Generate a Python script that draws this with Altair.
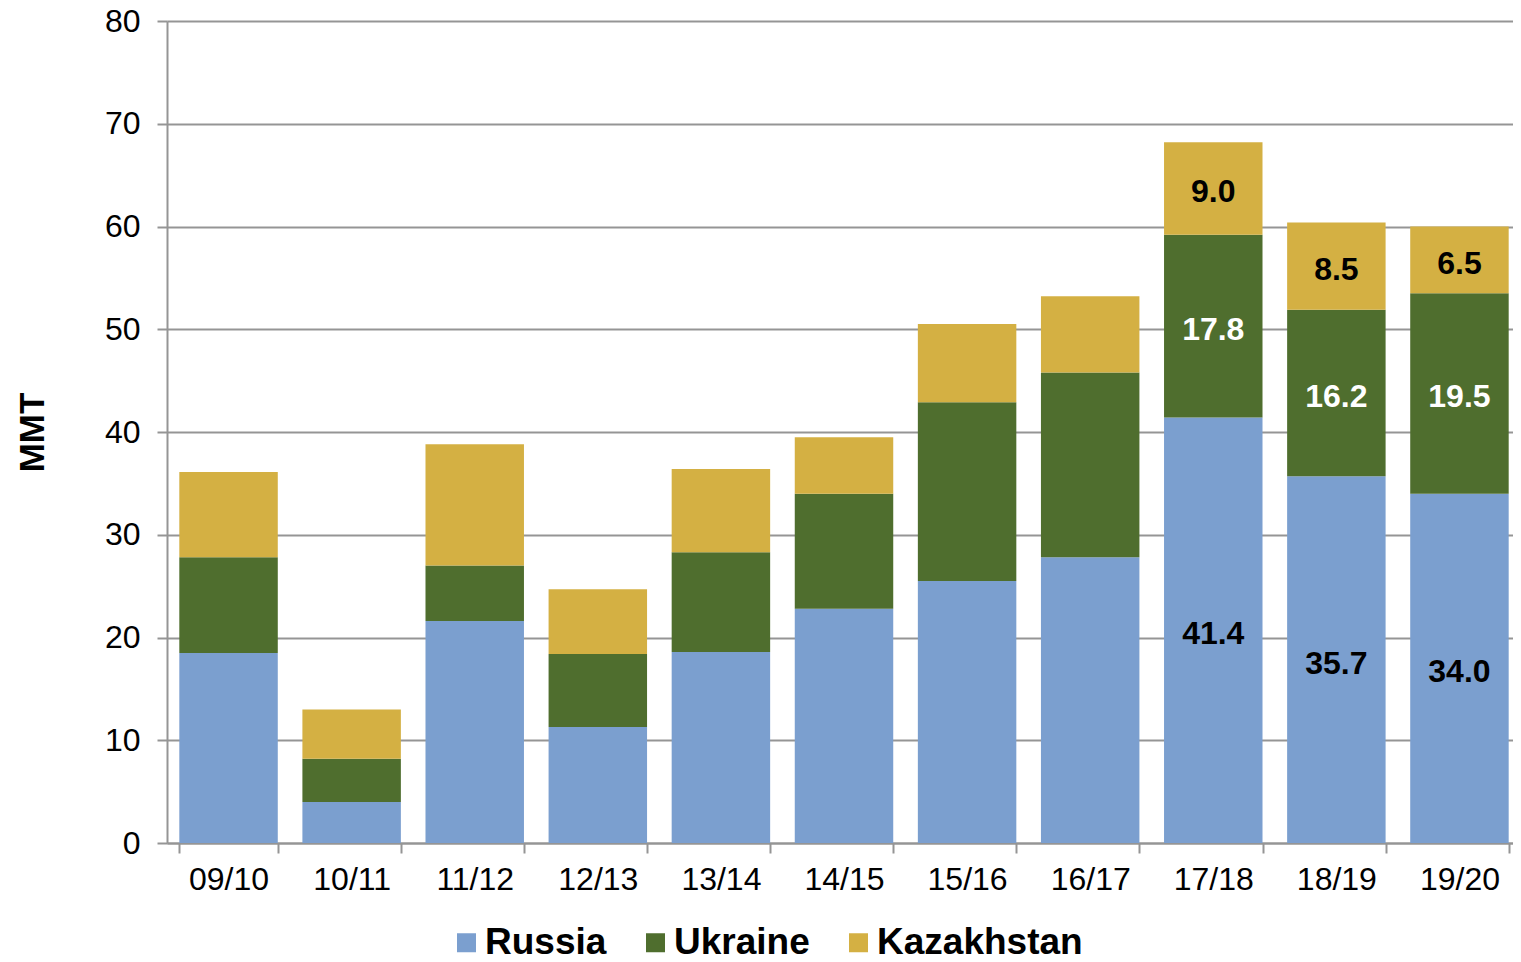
import altair as alt
import pandas as pd

seasons = ["09/10", "10/11", "11/12", "12/13", "13/14", "14/15", "15/16", "16/17", "17/18", "18/19", "19/20"]
russia = [18.5, 4.0, 21.6, 11.3, 18.6, 22.8, 25.5, 27.8, 41.4, 35.7, 34.0]
ukraine = [9.3, 4.2, 5.4, 7.1, 9.7, 11.2, 17.4, 18.0, 17.8, 16.2, 19.5]
kazakhstan = [8.3, 4.8, 11.8, 6.3, 8.1, 5.5, 7.6, 7.4, 9.0, 8.5, 6.5]
labeled_seasons = ["17/18", "18/19", "19/20"]
series_names = ["Russia", "Ukraine", "Kazakhstan"]
series_colors = ["#7B9FCF", "#4F6E2E", "#D4B043"]

rows = []
for i, s in enumerate(seasons):
    for k, (name, vals) in enumerate(zip(series_names, [russia, ukraine, kazakhstan])):
        rows.append({"season": s, "series": name, "value": vals[i], "order": k,
                     "show": s in labeled_seasons})
df = pd.DataFrame(rows)

FONT = "Liberation Sans"
GRID = "#959595"

x_enc = alt.X("season:N", sort=seasons,
              scale=alt.Scale(paddingInner=0.2, paddingOuter=0.1),
              axis=alt.Axis(title=None, labelAngle=0, tickBand="extent",
                            labelFontSize=32, labelPadding=11, tickSize=10,
                            labelFont=FONT, labelColor="black"))

base = alt.Chart(df)

bars = base.mark_bar().encode(
    x=x_enc,
    y=alt.Y("value:Q", stack="zero", scale=alt.Scale(domain=[0, 80], nice=False),
            axis=alt.Axis(values=list(range(0, 81, 10)), title="MMT",
                          titleFontSize=35, titleFont=FONT, titleFontWeight="bold",
                          titlePadding=54, titleColor="black",
                          labelFontSize=32, labelFont=FONT, labelPadding=17,
                          tickSize=10, grid=True, labelColor="black")),
    color=alt.Color("series:N",
                    scale=alt.Scale(domain=series_names, range=series_colors),
                    legend=alt.Legend(title=None, orient="none", direction="horizontal",
                                      legendX=281, legendY=903,
                                      symbolType="square", symbolSize=361,
                                      symbolStrokeWidth=0, symbolOpacity=1,
                                      labelFont=FONT, labelFontSize=37,
                                      labelFontWeight="bold", labelColor="black",
                                      labelLimit=600,
                                      labelOffset=0, columnPadding=30, padding=0)),
    order=alt.Order("order:Q", sort="ascending"),
)

labels = base.transform_stack(
    stack="value", groupby=["season"],
    sort=[alt.SortField("order", order="ascending")], as_=["v0", "v1"]
).transform_filter(
    alt.datum.show
).transform_calculate(
    mid="(datum.v0 + datum.v1) / 2",
    lab="format(datum.value, '.1f')"
).mark_text(font=FONT, fontSize=32, fontWeight="bold", baseline="middle", dy=4).encode(
    x=alt.X("season:N", sort=seasons),
    y=alt.Y("mid:Q"),
    text="lab:N",
    color=alt.condition(alt.datum.series == "Ukraine", alt.value("white"), alt.value("black")),
)

chart = alt.layer(bars, labels).properties(
    width=1354, height=822,
    autosize=alt.AutoSizeParams(type="none"),
    padding={"left": 159, "top": 13, "right": -8, "bottom": 112},
).configure_view(stroke=None).configure_axis(
    domainColor=GRID, domainWidth=2, tickColor=GRID, tickWidth=2,
    gridColor=GRID, gridWidth=2,
)

chart.save("out.html", embed_options={"renderer": "svg", "actions": False})
